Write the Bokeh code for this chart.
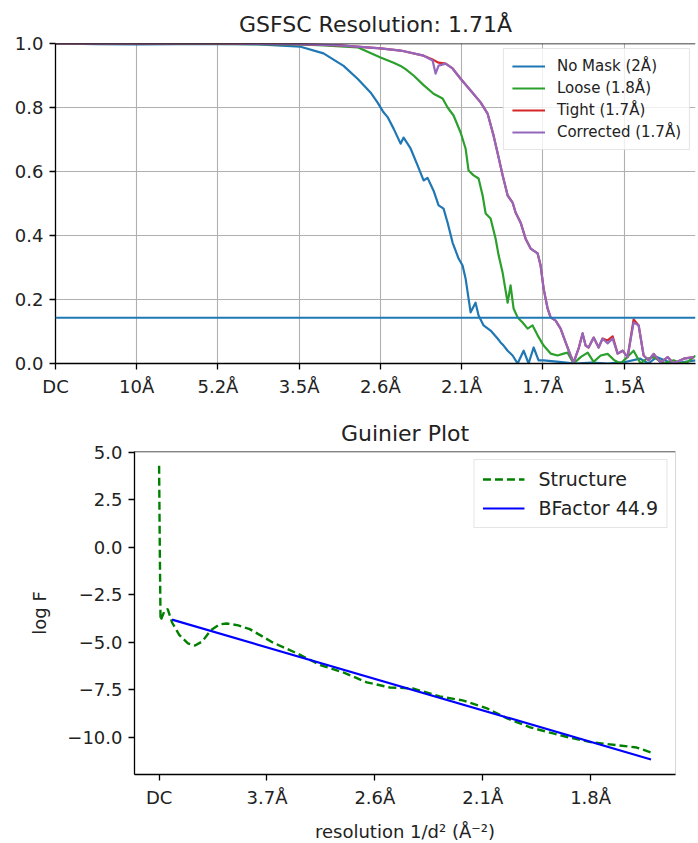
from bokeh.plotting import figure
from bokeh.models import Range1d, FixedTicker, Span
from bokeh.embed import file_html
from bokeh.resources import INLINE

FONT = "DejaVu Sans"

# ---------------- FSC data ----------------
fsc_ticks = [0, 1, 2, 3, 4, 5, 6, 7]
fsc_tick_labels = ["DC", "10Å", "5.2Å", "3.5Å", "2.6Å", "2.1Å", "1.7Å", "1.5Å"]
fsc_y_ticks = [0.0, 0.2, 0.4, 0.6, 0.8, 1.0]
fsc_threshold = 0.143
fsc_title = "GSFSC Resolution: 1.71Å"

nomask_x = [0.0, 0.5, 1.0, 1.5, 2.0, 2.5, 3.017, 3.3, 3.547, 3.719, 3.879, 3.966, 4.039, 4.089,
            4.163, 4.249, 4.286, 4.372, 4.458, 4.532, 4.581, 4.655, 4.717, 4.778, 4.828, 4.889,
            4.963, 5.012, 5.049, 5.086, 5.111, 5.172, 5.209, 5.271, 5.357, 5.443, 5.48, 5.517,
            5.567, 5.628, 5.69, 5.764, 5.825, 5.887, 5.948, 6.01, 6.2, 6.4, 6.6, 6.8, 7.0, 7.2,
            7.3, 7.4, 7.6, 7.88]
nomask_y = [1.0, 0.998, 0.997, 0.998, 0.999, 0.997, 0.99, 0.969, 0.93, 0.89, 0.847, 0.815, 0.785,
            0.77, 0.734, 0.687, 0.706, 0.672, 0.619, 0.572, 0.58, 0.54, 0.494, 0.484, 0.44, 0.378,
            0.328, 0.306, 0.266, 0.203, 0.16, 0.19, 0.15, 0.119, 0.103, 0.078, 0.066, 0.056, 0.04,
            0.025, 0.0, 0.04, 0.0, 0.05, 0.01, 0.01, 0.005, 0.0, 0.003, 0.0, 0.004, 0.015, 0.0,
            0.02, 0.0, 0.01]

loose_x = [0.0, 1.0, 2.0, 3.0, 3.3, 3.719, 4.002, 4.163, 4.249, 4.31, 4.409, 4.532, 4.655, 4.766,
           4.828, 4.901, 4.988, 5.049, 5.086, 5.148, 5.209, 5.259, 5.296, 5.357, 5.419, 5.456,
           5.505, 5.567, 5.603, 5.64, 5.69, 5.751, 5.813, 5.874, 5.936, 6.01, 6.096, 6.182, 6.256,
           6.305, 6.379, 6.466, 6.552, 6.626, 6.712, 6.798, 6.88, 6.958, 7.04, 7.118, 7.204, 7.28,
           7.365, 7.488, 7.611, 7.7, 7.783, 7.882]
loose_y = [1.0, 1.0, 0.999, 0.997, 0.994, 0.988, 0.956, 0.94, 0.93, 0.92, 0.9, 0.87, 0.843, 0.828,
           0.8, 0.775, 0.722, 0.672, 0.603, 0.588, 0.578, 0.525, 0.469, 0.453, 0.39, 0.338, 0.284,
           0.19, 0.244, 0.172, 0.144, 0.128, 0.109, 0.119, 0.088, 0.056, 0.031, 0.025, 0.031,
           0.034, 0.0, 0.02, 0.034, 0.005, 0.025, 0.03, 0.01, 0.0, 0.02, 0.04, 0.0, 0.015, 0.02,
           0.0, 0.01, 0.0, 0.005, 0.025]

masked_x = [0.0, 1.0, 2.0, 3.0, 3.5, 4.002, 4.249, 4.532, 4.643, 4.68, 4.717, 4.803, 4.889, 4.988,
            5.111, 5.234, 5.32, 5.394, 5.456, 5.505, 5.567, 5.628, 5.665, 5.727, 5.788, 5.85,
            5.936, 5.973, 6.01, 6.059, 6.096, 6.158, 6.219, 6.281, 6.342, 6.379, 6.441, 6.49,
            6.527, 6.564, 6.626, 6.687, 6.736, 6.798, 6.86, 6.921, 6.983, 7.044, 7.118, 7.18,
            7.241, 7.303, 7.365, 7.451, 7.537, 7.611, 7.734, 7.857]
tight_y = [1.0, 1.0, 1.0, 0.998, 0.994, 0.985, 0.978, 0.962, 0.95, 0.945, 0.94, 0.937, 0.922,
           0.89, 0.853, 0.816, 0.781, 0.712, 0.644, 0.588, 0.525, 0.503, 0.472, 0.44, 0.39, 0.359,
           0.344, 0.306, 0.234, 0.172, 0.144, 0.134, 0.109, 0.066, 0.025, 0.003, 0.047, 0.094,
           0.056, 0.05, 0.081, 0.05, 0.078, 0.072, 0.085, 0.031, 0.04, 0.02, 0.138, 0.119, 0.025,
           0.01, 0.03, 0.003, 0.02, 0.0, 0.015, 0.02]
corrected_y = [1.0, 1.0, 1.0, 0.998, 0.994, 0.985, 0.978, 0.962, 0.947, 0.906, 0.931, 0.937, 0.922,
               0.89, 0.853, 0.816, 0.781, 0.712, 0.644, 0.588, 0.525, 0.503, 0.472, 0.44, 0.39,
               0.359, 0.344, 0.306, 0.234, 0.172, 0.144, 0.134, 0.109, 0.066, 0.025, 0.003, 0.047,
               0.094, 0.056, 0.05, 0.081, 0.05, 0.078, 0.063, 0.078, 0.031, 0.04, 0.02, 0.128,
               0.119, 0.025, 0.01, 0.03, 0.003, 0.02, 0.0, 0.015, 0.02]

fsc_series = [
    ("No Mask (2Å)", nomask_x, nomask_y, "#1f77b4"),
    ("Loose (1.8Å)", loose_x, loose_y, "#2ca02c"),
    ("Tight (1.7Å)", masked_x, tight_y, "#d62728"),
    ("Corrected (1.7Å)", masked_x, corrected_y, "#9467bd"),
]

# ---------------- Guinier data ----------------
guinier_title = "Guinier Plot"
guinier_ticks = [0.0, 0.075, 0.15, 0.225, 0.3]
guinier_tick_labels = ["DC", "3.7Å", "2.6Å", "2.1Å", "1.8Å"]
guinier_y_ticks = [-10.0, -7.5, -5.0, -2.5, 0.0, 2.5, 5.0]
guinier_y_labels = ["−10.0", "−7.5", "−5.0", "−2.5", "0.0", "2.5", "5.0"]

struct_x = [0.0, 0.0005, 0.001, 0.004, 0.006, 0.009, 0.014, 0.02, 0.025, 0.03, 0.036, 0.042,
            0.047, 0.055, 0.063, 0.079, 0.096, 0.1125, 0.128, 0.1444, 0.1604, 0.1764, 0.195,
            0.211, 0.228, 0.242, 0.258, 0.274, 0.285, 0.301, 0.32, 0.332, 0.342]
struct_y = [4.3, -0.2, -3.85, -3.3, -3.25, -3.95, -4.6, -5.05, -5.16, -4.95, -4.35, -4.05, -4.0,
            -4.1, -4.3, -5.0, -5.58, -6.2, -6.58, -7.1, -7.37, -7.42, -7.84, -8.05, -8.47, -9.0,
            -9.47, -9.79, -10.0, -10.26, -10.42, -10.53, -10.79]
bfit_x = [0.009, 0.342]
bfit_y = [-3.8, -11.16]
bfactor_label = "BFactor 44.9"


def style_axes(p, tick_size="18px"):
    for ax in p.axis:
        ax.axis_line_color = "black"
        ax.axis_line_width = 1.3
        ax.major_tick_line_color = "black"
        ax.major_tick_line_width = 1.3
        ax.major_tick_out = 6
        ax.major_tick_in = 0
        ax.minor_tick_line_color = None
        ax.major_label_text_font = FONT
        ax.major_label_text_font_size = tick_size
        ax.major_label_text_color = "#222222"
        ax.major_label_standoff = 6
        ax.axis_label_text_font = FONT
        ax.axis_label_text_font_style = "normal"
        ax.axis_label_text_font_size = "18px"
        ax.axis_label_text_color = "#222222"


# ---------------- top figure ----------------
p1 = figure(frame_width=640, frame_height=320, output_backend="svg", toolbar_location=None,
            x_range=Range1d(0, 7.88), y_range=Range1d(0, 1.0),
            min_border_left=55, min_border_right=3, min_border_top=43, min_border_bottom=37,
            title=fsc_title)
p1.title.text_font = FONT
p1.title.text_font_size = "22px"
p1.title.text_font_style = "normal"
p1.title.text_color = "#222222"
p1.title.align = "center"
p1.title.standoff = 13
p1.outline_line_color = None

for label, xs, ys, color in fsc_series:
    p1.line(xs, ys, line_color=color, line_width=2.2, legend_label=label, line_join="round")

p1.add_layout(Span(location=fsc_threshold, dimension="width", line_color="#1f77b4", line_width=2.2))
p1.add_layout(Span(location=p1.y_range.end, dimension="width", line_color="black", line_width=1.5))

p1.xaxis.ticker = FixedTicker(ticks=fsc_ticks)
p1.xaxis.major_label_overrides = {t: l for t, l in zip(fsc_ticks, fsc_tick_labels)}
p1.yaxis.ticker = FixedTicker(ticks=fsc_y_ticks)
p1.yaxis.major_label_overrides = {t: f"{t:.1f}" for t in fsc_y_ticks}
p1.xgrid.ticker = FixedTicker(ticks=fsc_ticks)
p1.ygrid.ticker = FixedTicker(ticks=fsc_y_ticks)
p1.grid.grid_line_color = "#b0b0b0"
p1.grid.grid_line_width = 1.1
style_axes(p1)

lg = p1.legend[0]
lg.location = "top_right"
lg.margin = 5
lg.padding = 8
lg.spacing = 4
lg.label_text_font = FONT
lg.label_text_font_size = "15px"
lg.label_text_color = "#222222"
lg.glyph_width = 33
lg.glyph_height = 18
lg.label_height = 18
lg.label_standoff = 12
lg.border_line_color = "#cccccc"
lg.border_line_width = 1
lg.background_fill_alpha = 0.8

# ---------------- bottom figure ----------------
p2 = figure(frame_width=541, frame_height=323, output_backend="svg", toolbar_location=None,
            x_range=Range1d(-0.0171, 0.359), y_range=Range1d(-11.95, 5.05),
            min_border_left=134, min_border_right=23, min_border_top=51, min_border_bottom=64,
            title=guinier_title)
p2.title.text_font = FONT
p2.title.text_font_size = "22px"
p2.title.text_font_style = "normal"
p2.title.text_color = "#222222"
p2.title.align = "center"
p2.title.standoff = 11
p2.outline_line_color = "#d8d8d8"
p2.grid.grid_line_color = None

p2.line(struct_x, struct_y, line_color="#008000", line_width=2.4, line_dash="8 4",
        legend_label="Structure")
p2.line(bfit_x, bfit_y, line_color="#0000ff", line_width=2.2, legend_label=bfactor_label)
p2.add_layout(Span(location=p2.y_range.end, dimension="width", line_color="#333333", line_width=1.5))

p2.xaxis.ticker = FixedTicker(ticks=guinier_ticks)
p2.xaxis.major_label_overrides = {t: l for t, l in zip(guinier_ticks, guinier_tick_labels)}
p2.yaxis.ticker = FixedTicker(ticks=guinier_y_ticks)
p2.yaxis.major_label_overrides = {t: l for t, l in zip(guinier_y_ticks, guinier_y_labels)}
p2.xaxis.axis_label = "resolution 1/d² (Å⁻²)"
p2.yaxis.axis_label = "log F"
style_axes(p2)
p2.yaxis.axis_label_standoff = 14
p2.xaxis.axis_label_standoff = 10

lg2 = p2.legend[0]
lg2.location = "top_right"
lg2.margin = 8
lg2.padding = 8
lg2.spacing = 7
lg2.label_text_font = FONT
lg2.label_text_font_size = "19px"
lg2.label_text_color = "#222222"
lg2.glyph_width = 42
lg2.glyph_height = 22
lg2.label_height = 22
lg2.label_standoff = 14
lg2.border_line_color = "#cccccc"
lg2.background_fill_alpha = 0.8

open("out.html", "w").write(file_html([p1, p2], INLINE))
